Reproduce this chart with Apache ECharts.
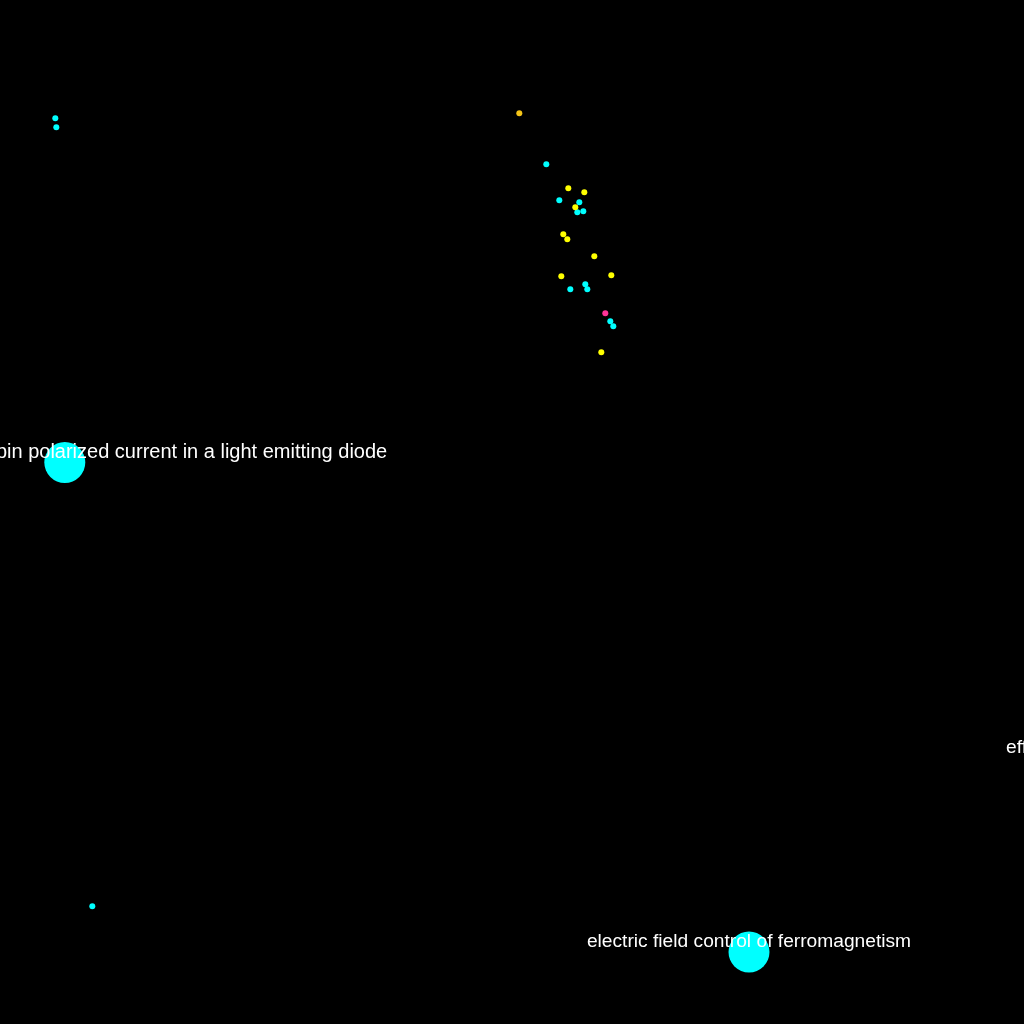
<!DOCTYPE html>
<html><head><meta charset="utf-8">
<script src="https://cdn.jsdelivr.net/npm/echarts@6/dist/echarts.min.js"></script>
<style>html,body{margin:0;padding:0;background:#000}#c{width:1024px;height:1024px}</style>
</head><body><div id="c"></div>
<script>
// small nodes: x, y positions in layout units, group
const smallX = [519.3, 546.3, 568.3, 584.3, 559.3, 579.3, 575.3, 577.3, 583.3, 563.3, 567.3, 594.3, 611.3, 561.3, 585.3, 587.3, 570.3, 605.3, 610.3, 613.3, 601.3, 55.3, 56.3, 92.3];
const smallY = [113.3, 164.3, 188.3, 192.3, 200.3, 202.3, 207.3, 212.3, 211.3, 234.3, 239.3, 256.3, 275.3, 276.3, 284.3, 289.3, 289.3, 313.3, 321.3, 326.3, 352.3, 118.3, 127.3, 906.3];
const smallGroup = ['gold','cyan','yellow','yellow','cyan','cyan','yellow','cyan','cyan','yellow','yellow','yellow','yellow','yellow','cyan','cyan','cyan','pink','cyan','cyan','yellow','cyan','cyan','cyan'];
// large labelled nodes
const bigNames = ['injection and detection of a spin polarized current in a light emitting diode', 'electric field control of ferromagnetism', 'effect of spin injection in semiconductors'];
const bigX = [64.8, 749, 1060];
const bigY = [462.5, 952, 758];

const groupColors = {cyan:'#00ffff', yellow:'#ffff00', gold:'#f5c518', pink:'#ff3399'};
const labelStyles = [
  {align:'center', offset:[0,-10], fontSize:20},
  {align:'center', offset:[0,-10], fontSize:19.2},
  {align:'left', offset:[-54,-10], fontSize:19.2}
];

const series = Object.keys(groupColors).map(g => ({
  type:'scatter', name:g, clip:false, symbol:'circle', symbolSize:6,
  itemStyle:{color:groupColors[g], opacity:1},
  data: smallX.map((x,i)=>smallGroup[i]===g?[x,smallY[i]]:null).filter(d=>d)
}));
series.push({
  type:'scatter', name:'big', clip:false, symbol:'circle', symbolSize:41,
  itemStyle:{color:'#00ffff', opacity:1}, z:3,
  label:{show:true, position:'inside', color:'#ffffff', fontSize:19, fontFamily:'Liberation Sans, Arial, sans-serif', formatter:p=>p.name},
  data: bigNames.map((n,i)=>({name:n, value:[bigX[i],bigY[i]], label:labelStyles[i]}))
});

const chart = echarts.init(document.getElementById('c'), null, {renderer:'canvas'});
chart.setOption({
  backgroundColor:'#000',
  animation:false,
  grid:{left:0,right:0,top:0,bottom:0},
  xAxis:{type:'value',min:0,max:1024,show:false},
  yAxis:{type:'value',min:0,max:1024,inverse:true,show:false},
  series
});
</script></body></html>
